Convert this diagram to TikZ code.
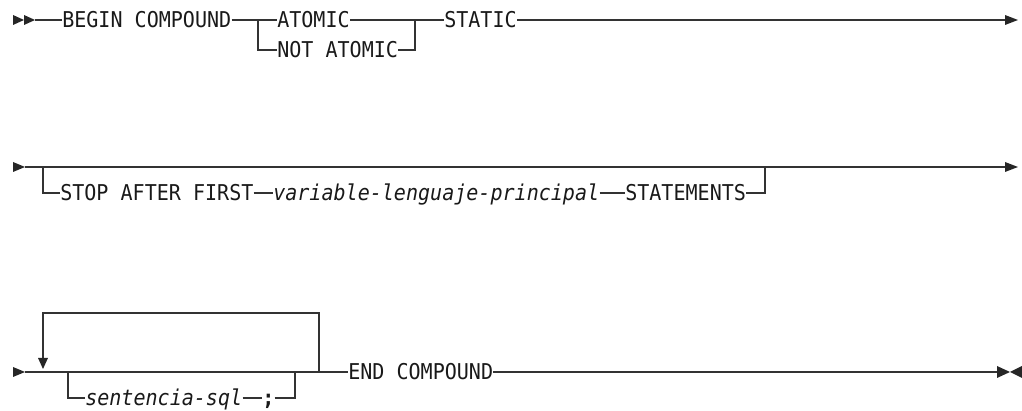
\documentclass[tikz,border=0pt]{standalone}
\usepackage{fontspec}
\setmonofont[FakeStretch=0.92]{DejaVu Sans Mono}
\usepackage{tikz}
\usetikzlibrary{positioning,arrows.meta}
\definecolor{railgray}{HTML}{333333}

\begin{document}
\begin{tikzpicture}[x=0.025cm,y=-0.025cm,
  kw/.style={inner sep=0pt,anchor=west,text height=11.3pt,text depth=0pt,
             font=\ttfamily\fontsize{15.5}{18}\selectfont,text=black!90},
  var/.style={kw,font=\ttfamily\itshape\fontsize{15.5}{18}\selectfont},
  rail/.style={draw=railgray,line width=0.9pt},
  tip/.style={fill=black!85}]

  \useasboundingbox (0,0) rectangle (1022,411);

  % row 1: BEGIN COMPOUND ATOMIC / NOT ATOMIC STATIC
  \coordinate (s1) at (13,20);
  \coordinate (s1b) at (24,20);
  \coordinate (r1a) at (35,20);
  \fill[tip] (s1) -- ++(0,-5) -- ++(11,5) -- ++(-11,5) -- cycle;
  \fill[tip] (s1b) -- ++(0,-5) -- ++(11,5) -- ++(-11,5) -- cycle;
  \node[kw] (begin) at (62,20) {BEGIN COMPOUND};
  \coordinate (fork1) at (258,20);
  \node[kw] (atomic) at (277,20) {ATOMIC};
  \node[kw] (notatomic) at (277,50) {NOT ATOMIC};
  \coordinate (join1) at (415,20);
  \node[kw] (static) at (444,20) {STATIC};
  \coordinate (e1) at (1005,20);
  \draw[rail] (r1a) -- (begin.west);
  \draw[rail] (begin.east) -- (atomic.west);
  \draw[rail] (fork1) |- (notatomic.west);
  \draw[rail] (atomic.east) -- (static.west);
  \draw[rail] (notatomic.east) -| (join1);
  \draw[rail] (static.east) -- (e1);
  \fill[tip] (e1) -- ++(0,-5) -- ++(13,5) -- ++(-13,5) -- cycle;

  % row 2: optional STOP AFTER FIRST ... STATEMENTS
  \coordinate (s2) at (13,167);
  \coordinate (r2a) at (25,167);
  \fill[tip] (s2) -- ++(0,-5) -- ++(12,5) -- ++(-12,5) -- cycle;
  \coordinate (fork2) at (43,167);
  \node[kw] (stop) at (60,193) {STOP AFTER FIRST};
  \node[var] (hostvar) at (273,193) {variable-lenguaje-principal};
  \node[kw] (stmts) at (625,193) {STATEMENTS};
  \coordinate (join2) at (765,167);
  \coordinate (e2) at (1005,167);
  \draw[rail] (r2a) -- (e2);
  \draw[rail] (fork2) |- (stop.west);
  \draw[rail] (stop.east) -- (hostvar.west);
  \draw[rail] (hostvar.east) -- (stmts.west);
  \draw[rail] (stmts.east) -| (join2);
  \fill[tip] (e2) -- ++(0,-5) -- ++(13,5) -- ++(-13,5) -- cycle;

  % row 3: repeated sentencia-sql ; then END COMPOUND
  \coordinate (s3) at (13,372);
  \coordinate (r3a) at (25,372);
  \fill[tip] (s3) -- ++(0,-5) -- ++(12,5) -- ++(-12,5) -- cycle;
  \coordinate (fork3) at (68,372);
  \node[var] (sql) at (85,398) {sentencia-sql};
  \node[kw,font=\ttfamily\bfseries\fontsize{15.5}{18}\selectfont] (semi) at (262,398) {;};
  \coordinate (join3) at (295,372);
  \coordinate (loopR) at (319,372);
  \coordinate (loopTop) at (43,313);
  \coordinate (loopArr) at (43,358);
  \node[kw] (endc) at (348,372) {END COMPOUND};
  \coordinate (e3) at (997,372);
  \draw[rail] (r3a) -- (endc.west);
  \draw[rail] (fork3) |- (sql.west);
  \draw[rail] (sql.east) -- (semi.west);
  \draw[rail] (semi.east) -| (join3);
  \draw[rail] (loopR) |- (loopTop) -- (loopArr);
  \fill[tip] (loopArr) ++(-5,0) -- ++(10,0) -- ++(-5,11) -- cycle;
  \draw[rail] (endc.east) -- (e3);
  \fill[tip] (e3) -- ++(0,-6) -- ++(13,6) -- ++(-13,6) -- cycle;
  \fill[tip] (1022,366) -- ++(0,12) -- ++(-12,-6) -- cycle;
\end{tikzpicture}
\end{document}
